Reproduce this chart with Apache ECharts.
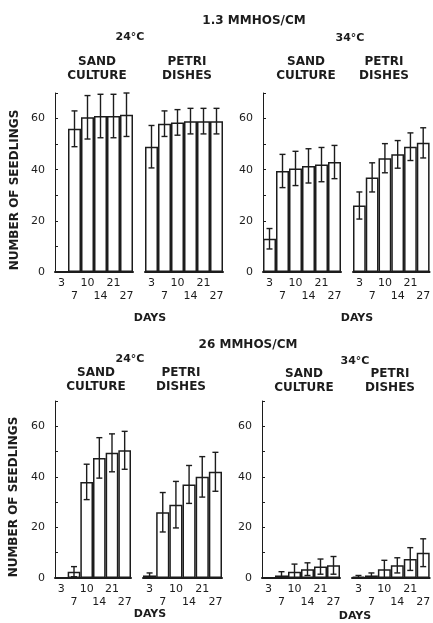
<!DOCTYPE html>
<html>
<head>
<meta charset="utf-8">
<script src="https://cdn.jsdelivr.net/npm/echarts@6/dist/echarts.min.js"></script>
<style>
  html, body { margin: 0; padding: 0; background: #fff; }
  #chart { width: 433px; height: 623px; }
</style>
</head>
<body>
<div id="chart"></div>
<script>
// days of sampling (x categories)
var days = ['3', '7', '10', '14', '21', '27'];
var yTicks = [0, 20, 40, 60];

// 1.3 mmhos/cm
var sand24Low = [0, 56, 60.5, 61, 61, 61.5];
var sand24LowErr = [0, 7, 8.5, 8.5, 8.5, 8.5];
var petri24Low = [49, 58, 58.5, 59, 59, 59];
var petri24LowErr = [8.3, 5, 5, 5, 5, 5];
var sand34Low = [13, 39.5, 40.5, 41.5, 42, 43];
var sand34LowErr = [4, 6.5, 6.7, 6.7, 6.7, 6.5];
var petri34Low = [26, 37, 44.5, 46, 49, 50.5];
var petri34LowErr = [5.3, 5.7, 5.7, 5.4, 5.4, 5.9];

// 26 mmhos/cm
var sand24High = [0, 2.5, 38, 47.5, 49.5, 50.5];
var sand24HighErr = [0, 2, 7, 8, 7.5, 7.5];
var petri24High = [1, 26, 29, 37, 40, 42];
var petri24HighErr = [1, 7.8, 9.2, 7.5, 8, 7.7];
var sand34High = [0, 1, 2.5, 3.5, 4.5, 5];
var sand34HighErr = [0, 1.5, 3, 2.5, 3, 3.5];
var petri34High = [0.5, 1, 3.5, 5, 7.5, 10];
var petri34HighErr = [0.5, 1, 3.5, 3, 4.5, 5.5];

var ink = '#1c1c1c';
var font = 'DejaVu Sans';

// panel layout
var panels = [
  { vals: sand24Low,  errs: sand24LowErr,  left: 55,  top: 93,  width: 78, height: 179, axis: true },
  { vals: petri24Low, errs: petri24LowErr, left: 145, top: 93,  width: 78, height: 179, axis: false },
  { vals: sand34Low,  errs: sand34LowErr,  left: 263, top: 93,  width: 78, height: 179, axis: true },
  { vals: petri34Low, errs: petri34LowErr, left: 353, top: 93,  width: 79, height: 179, axis: false },
  { vals: sand24High,  errs: sand24HighErr,  left: 55,  top: 401, width: 76, height: 177, axis: true },
  { vals: petri24High, errs: petri24HighErr, left: 143, top: 401, width: 79, height: 177, axis: false },
  { vals: sand34High,  errs: sand34HighErr,  left: 262, top: 401, width: 78, height: 177, axis: true },
  { vals: petri34High, errs: petri34HighErr, left: 352, top: 401, width: 80, height: 177, axis: false }
];

var grids = [], xAxes = [], yAxes = [], series = [];

panels.forEach(function (p, k) {
  grids.push({ left: p.left, top: p.top, width: p.width, height: p.height });
  xAxes.push({
    type: 'category', gridIndex: k, data: days,
    axisLine: { lineStyle: { color: ink, width: 2 } },
    axisTick: { show: false },
    axisLabel: {
      color: ink, fontFamily: font, fontSize: 11, lineHeight: 13, margin: 5, interval: 0,
      formatter: function (v, i) { return i % 2 ? '\n' + v : v; }
    }
  });
  yAxes.push({
    type: 'value', gridIndex: k, min: 0, max: 70, interval: 10, show: p.axis,
    splitLine: { show: false },
    axisLine: { show: true, lineStyle: { color: ink, width: 1 } },
    axisTick: { show: true, inside: true, length: 3, lineStyle: { color: ink } },
    axisLabel: {
      color: ink, fontFamily: font, fontSize: 11, margin: 10,
      formatter: function (v) { return yTicks.indexOf(v) >= 0 ? String(v) : ''; }
    }
  });
  series.push({
    type: 'bar', xAxisIndex: k, yAxisIndex: k, data: p.vals,
    barCategoryGap: '0%', silent: true,
    itemStyle: { color: '#fff', borderColor: ink, borderWidth: 1.5 }
  });
  series.push({
    type: 'custom', xAxisIndex: k, yAxisIndex: k, z: 5, silent: true,
    data: p.vals.map(function (v, i) { return [i, v, p.errs[i]]; }),
    renderItem: function (params, api) {
      var i = api.value(0), v = api.value(1), e = api.value(2);
      if (!e) return;
      var a = api.coord([i, v + e]);
      var b = api.coord([i, Math.max(0, v - e)]);
      var hw = 3;
      var st = { stroke: ink, lineWidth: 1.4 };
      return {
        type: 'group',
        children: [
          { type: 'line', shape: { x1: a[0], y1: a[1], x2: b[0], y2: b[1] }, style: st },
          { type: 'line', shape: { x1: a[0] - hw, y1: a[1], x2: a[0] + hw, y2: a[1] }, style: st },
          { type: 'line', shape: { x1: b[0] - hw, y1: b[1], x2: b[0] + hw, y2: b[1] }, style: st }
        ]
      };
    }
  });
});

function label(text, x, y, opts) {
  opts = opts || {};
  return {
    type: 'text', x: x, y: y, rotation: opts.rotation || 0,
    style: {
      text: text, fill: ink, font: (opts.weight || 'bold') + ' ' + (opts.size || 12) + 'px "' + font + '"',
      textAlign: 'center', textVerticalAlign: 'middle', lineHeight: opts.lh || 14
    }
  };
}

var texts = [
  label('1.3 MMHOS/CM', 254, 21, { size: 12 }),
  label('24°C', 130, 37, { size: 11 }),
  label('34°C', 350, 38, { size: 11 }),
  label('SAND\nCULTURE', 97, 69),
  label('PETRI\nDISHES', 187, 69),
  label('SAND\nCULTURE', 306, 69),
  label('PETRI\nDISHES', 384, 69),
  label('DAYS', 150, 318, { size: 11 }),
  label('DAYS', 357, 318, { size: 11 }),
  label('NUMBER OF SEEDLINGS', 15, 190, { rotation: Math.PI / 2 }),

  label('26 MMHOS/CM', 248, 345, { size: 12 }),
  label('24°C', 130, 359, { size: 11 }),
  label('34°C', 355, 361, { size: 11 }),
  label('SAND\nCULTURE', 96, 380),
  label('PETRI\nDISHES', 181, 380),
  label('SAND\nCULTURE', 304, 381),
  label('PETRI\nDISHES', 390, 381),
  label('DAYS', 150, 614, { size: 11 }),
  label('DAYS', 355, 616, { size: 11 }),
  label('NUMBER OF SEEDLINGS', 14, 497, { rotation: Math.PI / 2 })
];

var chart = echarts.init(document.getElementById('chart'), null, { renderer: 'canvas' });
chart.setOption({
  backgroundColor: '#fff',
  animation: false,
  grid: grids,
  xAxis: xAxes,
  yAxis: yAxes,
  series: series,
  graphic: texts
});
</script>
</body>
</html>
